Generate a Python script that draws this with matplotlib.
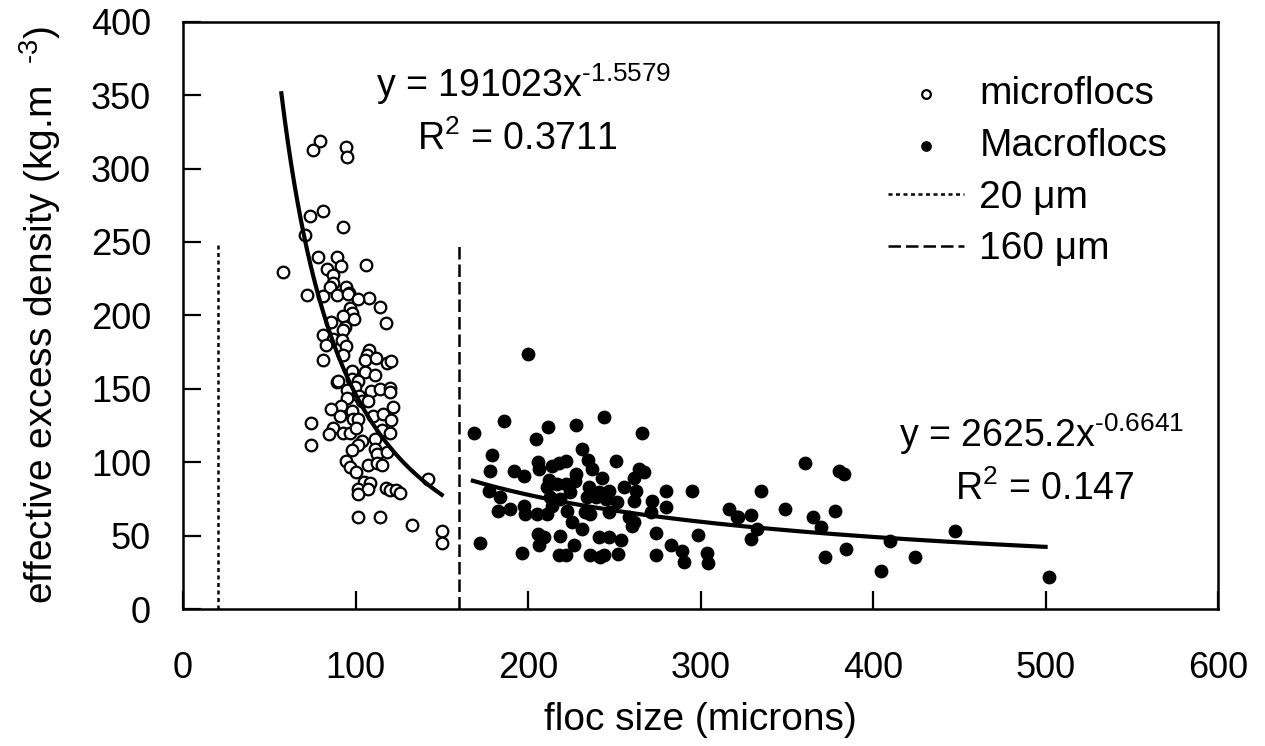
import numpy as np
import matplotlib
matplotlib.use('Agg')
import matplotlib.pyplot as plt

plt.rcParams['font.family'] = ['Liberation Sans', 'DejaVu Sans']
plt.rcParams['mathtext.fontset'] = 'custom'
plt.rcParams['mathtext.rm'] = 'Liberation Sans'
plt.rcParams['mathtext.it'] = 'Liberation Sans'

# microflocs (open circles)
micro_x = [79.3, 75.4, 94.4, 95.3, 73.4, 81.4, 93.0, 70.9, 58.0, 78.1, 89.5, 91.5, 83.7,
           105.8, 87.0, 87.0, 85.0, 94.4, 72.1, 89.5, 96.3, 108.0, 81.2, 95.7, 101.2,
           114.0, 96.7, 97.7, 99.2, 92.8, 117.4, 86.0, 93.8, 92.8, 81.2, 87.0, 91.9,
           82.6, 94.4, 81.2, 92.8, 107.8, 106.4, 105.4, 111.6, 118.0, 120.5, 97.7,
           105.4, 111.2, 89.0, 89.6, 97.7, 101.5, 99.6, 94.8, 108.9, 114.1, 119.9,
           119.9, 94.8, 101.9, 103.5, 107.4, 91.5, 86.0, 97.7, 121.9, 90.9, 98.6,
           101.5, 110.3, 116.1, 120.5, 74.4, 87.0, 84.5, 92.8, 96.7, 100.0, 115.1,
           119.9, 111.2, 103.8, 101.5, 74.4, 97.7, 111.2, 112.2, 118.0, 94.2, 96.7,
           100.0, 107.0, 112.2, 115.5, 141.9, 105.0, 108.3, 101.2, 107.0, 117.4,
           119.9, 123.3, 126.0, 101.2, 101.2, 114.0, 132.6, 150.0, 150.0]
micro_y = [318.5, 312.8, 314.4, 307.6, 268.0, 271.0, 260.0, 254.6, 229.7, 239.8, 239.8,
           233.8, 231.4, 234.0, 227.5, 222.2, 219.0, 219.0, 213.8, 213.8, 215.4, 211.5,
           213.3, 214.5, 211.0, 205.4, 204.7, 201.7, 197.2, 199.5, 194.7, 195.6, 192.2,
           189.9, 186.5, 184.2, 183.0, 179.6, 179.0, 169.9, 172.8, 176.7, 173.3, 169.4,
           171.2, 167.6, 168.7, 161.9, 161.5, 159.2, 154.6, 155.4, 156.9, 155.3, 151.2,
           148.9, 148.4, 149.6, 150.5, 147.8, 143.9, 144.8, 142.0, 141.4, 138.0, 135.9,
           134.6, 137.6, 131.8, 129.6, 129.6, 131.8, 132.5, 128.9, 126.4, 123.2, 118.9,
           119.8, 119.8, 123.2, 122.1, 119.8, 116.0, 114.4, 111.4, 111.8, 108.6, 109.1,
           105.7, 106.8, 100.6, 96.5, 93.6, 98.1, 99.2, 98.1, 88.6, 86.4, 85.7, 81.8,
           81.8, 82.5, 81.3, 81.1, 78.8, 78.4, 62.4, 62.4, 57.2, 53.3, 44.9]

# Macroflocs (filled circles)
macro_x = [199.8, 168.8, 185.9, 211.6, 227.9, 244.0, 266.3, 204.7, 179.1, 231.4, 178.1,
           191.7, 197.5, 205.8, 206.6, 214.0, 217.8, 222.1, 234.9, 237.2, 251.2, 227.9,
           227.5, 243.0, 264.3, 267.2, 261.4, 212.4, 216.9, 211.0, 222.1, 224.6, 235.3,
           241.1, 246.9, 255.6, 262.4, 177.5, 183.9, 280.2, 295.3, 213.0, 218.8, 234.3,
           239.1, 244.9, 251.7, 261.4, 272.1, 182.6, 189.7, 197.5, 198.4, 205.2, 211.0,
           214.0, 222.7, 233.3, 236.2, 246.9, 258.5, 271.1, 280.2, 225.6, 261.4, 260.5,
           231.4, 172.3, 205.8, 209.1, 206.6, 218.8, 226.5, 241.1, 246.9, 253.7, 274.0,
           282.7, 298.8, 289.1, 196.5, 217.8, 222.1, 236.2, 241.5, 244.0, 252.3, 274.4,
           303.5, 290.4, 304.1, 316.3, 320.9, 360.3, 380.2, 382.9, 335.1, 348.7, 365.1,
           377.7, 329.2, 321.5, 370.0, 332.6, 329.2, 447.5, 410.0, 384.5, 371.9, 424.2,
           404.5, 502.1]
macro_y = [174.0, 119.8, 128.0, 123.9, 125.5, 130.7, 119.8, 115.6, 105.0, 109.1, 93.8,
           94.3, 90.8, 99.9, 95.4, 97.7, 99.3, 101.1, 101.6, 95.4, 100.6, 92.0, 87.4,
           89.0, 95.4, 93.2, 89.0, 87.9, 85.2, 82.9, 85.2, 79.6, 82.9, 79.6, 80.3, 83.3,
           80.3, 80.3, 76.5, 80.3, 80.3, 76.5, 75.0, 76.3, 76.5, 75.0, 72.8, 73.3, 73.5,
           66.5, 68.1, 70.4, 64.6, 65.0, 65.0, 70.4, 66.5, 65.8, 65.0, 65.8, 62.8, 65.8,
           69.7, 59.6, 59.6, 56.7, 54.4, 44.9, 51.0, 48.8, 43.5, 49.9, 43.7, 48.8, 48.8,
           47.0, 51.7, 43.7, 50.5, 39.6, 38.0, 36.7, 36.7, 36.7, 35.1, 36.7, 37.8, 36.7,
           38.5, 31.7, 31.2, 68.1, 62.8, 99.3, 94.3, 92.0, 80.3, 68.1, 62.4, 66.5, 64.2,
           62.8, 56.0, 54.4, 47.6, 53.3, 46.4, 40.8, 35.5, 35.5, 26.0, 21.9]

# power-law trend lines: coefficient, exponent, x range
micro_fit = (191023, -1.5579, 57, 150)
macro_fit = (2625.2, -0.6641, 168, 500)

fs = 27

fig = plt.figure(figsize=(12.65, 7.46), dpi=100)
ax = fig.add_axes([0.1447, 0.1836, 0.8182, 0.7873])

ax.scatter(micro_x, micro_y, s=70, facecolors='white', edgecolors='black',
           linewidths=1.6, zorder=3, label='microflocs')
ax.scatter(macro_x, macro_y, s=80, color='black', zorder=3, label='Macroflocs')

for a, b, x0, x1 in [micro_fit, macro_fit]:
    xx = np.linspace(x0, x1, 200)
    ax.plot(xx, a * xx ** b, color='black', lw=3, zorder=4)

ax.plot([20, 20], [0, 248], color='black', lw=1.8, linestyle=(0, (1.6, 1.4)), label='20 μm')
ax.plot([160, 160], [0, 250], color='black', lw=1.8, linestyle=(0, (5, 2)), label='160 μm')

ax.text(112, 349, r'y = 191023x$^{\text{-1.5579}}$', fontsize=fs, ha='left', va='baseline')
ax.text(135.5, 312.5, r'R$^{\text{2}}$ = 0.3711', fontsize=fs, ha='left', va='baseline')
ax.text(415, 110.5, r'y = 2625.2x$^{\text{-0.6641}}$', fontsize=fs, ha='left', va='baseline')
ax.text(447.5, 74.5, r'R$^{\text{2}}$ = 0.147', fontsize=fs, ha='left', va='baseline')

ax.set_xlim(0, 600)
ax.set_ylim(0, 400)
ax.set_xticks(np.arange(0, 601, 100))
ax.set_yticks(np.arange(0, 401, 50))
ax.tick_params(direction='in', length=13, width=1.6, labelsize=26)
ax.tick_params(axis='x', pad=30)
ax.tick_params(axis='y', pad=23)
for sp in ax.spines.values():
    sp.set_linewidth(1.8)

ax.set_xlabel('floc size (microns)', fontsize=28, labelpad=12)
ax.set_ylabel(r'effective excess density (kg.m  $^{\text{-3}}$)', fontsize=28, labelpad=20)

ax.legend(loc='upper left', bbox_to_anchor=(869 / 1265, 1 - 57 / 746),
          bbox_transform=fig.transFigure, frameon=False, fontsize=28, borderpad=0,
          handlelength=1.95, handletextpad=0.39, labelspacing=0.4, markerscale=0.75)

fig.savefig('out.png', dpi=100)
